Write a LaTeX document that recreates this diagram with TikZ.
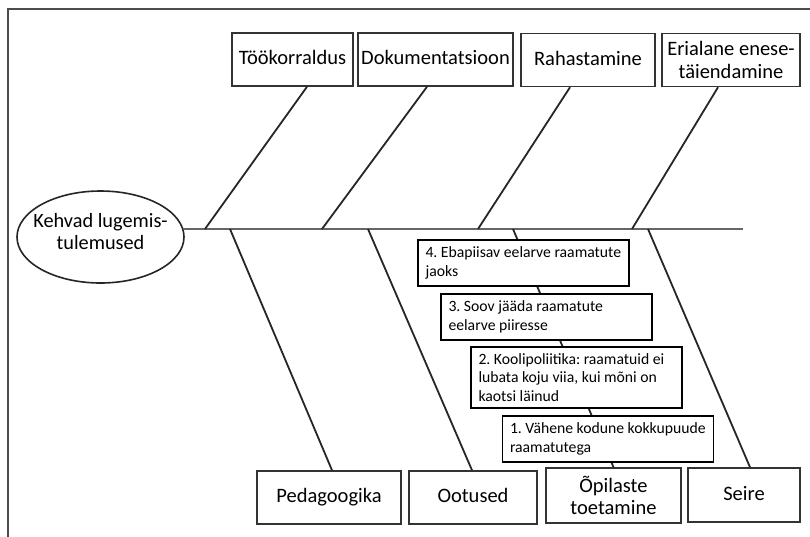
\documentclass[tikz,border=0pt]{standalone}
\usepackage{fontspec}
\setmainfont{Carlito}
\usetikzlibrary{shapes.geometric,calc}

\begin{document}
\frenchspacing
\begin{tikzpicture}[x=1pt,y=-1pt,
  cat/.style={draw=black!80, line width=1.5pt, fill=white, align=center,
    font=\fontsize{20.5}{22.5}\selectfont, inner sep=0pt,
    minimum height=53pt, text height=14pt, text depth=4pt},
  cat2/.style={cat, text height=, text depth=},
  cause/.style={draw=black, line width=1.1pt, fill=white, align=flush left,
    font=\fontsize{15.7}{18.5}\selectfont, text width=196pt, inner xsep=7.5pt,
    inner ysep=0pt, minimum height=46pt},
  bone/.style={draw=black!85, line width=1.8pt},
  spine/.style={draw=black!60, line width=2pt},
  frameline/.style={draw=black!70, line width=1.5pt},
]
\useasboundingbox (0,0) rectangle (810,536);
\fill[white] (0,0) rectangle (810,536);

% outer frame (only top and left edges fall inside the page)
\draw[frameline] (8,545) -- (8,9) -- (820,9);

% effect: fixed-size ellipse with its label on top
\node[draw=black!85, line width=1.6pt, ellipse, minimum width=167pt,
  minimum height=92pt, inner sep=0pt] (eff) at (100.5,237) {};
\node[align=center, font=\fontsize{20.3}{22.5}\selectfont, inner sep=0pt]
  (efftext) at (100.5,231.5) {Kehvad lugemis-\\tulemused};

% points on the spine
\coordinate (se) at (743,229);
\coordinate (u1) at (205,229);
\coordinate (u2) at (322,229);
\coordinate (u3) at (478,229);
\coordinate (u4) at (632,229);
\coordinate (l1) at (230,229);
\coordinate (l2) at (368,229);
\coordinate (l3) at (513,229);
\coordinate (l4) at (648,229);

% spine
\draw[spine] ([xshift=-1.5pt]se -| eff.east) -- (se);

% upper categories
\node[cat, minimum width=121pt] (t1) at (292.5,59.5) {Töökorraldus};
\node[cat, minimum width=155pt] (t2) at (435.5,59.5) {Dokumentatsioon};
\node[cat, minimum width=134pt] (t3) at (588,60) {Rahastamine};
\node[cat2, minimum width=138pt] (t4) at (731,60) {Erialane enese-\\täiendamine};

% lower categories
\node[cat, minimum width=144pt] (b1) at (329,497.5) {Pedagoogika};
\node[cat, minimum width=128pt] (b2) at (473,497.5) {Ootused};
\node[cat2, minimum width=135pt, minimum height=55pt] (b3) at (613.5,495.5) {Õpilaste\\toetamine};
\node[cat, minimum width=112pt, minimum height=54pt] (b4) at (744,495) {Seire};

% upper bones
\draw[bone] ([xshift=14.5pt]t1.south) -- (u1);
\draw[bone] ([xshift=-8.5pt]t2.south) -- (u2);
\draw[bone] ([xshift=-18pt]t3.south) -- (u3);
\draw[bone] ([xshift=-13pt]t4.south) -- (u4);

% lower bones
\draw[bone] (l1) -- ([xshift=3pt]b1.north);
\draw[bone] (l2) -- ([xshift=-1pt]b2.north);
\draw[bone] (l3) -- (b3.north);
\draw[bone] (l4) -- ([xshift=6pt]b4.north);

% causes along the student-support bone
\node[cause] (c4) at (523.5,263) {4. Ebapiisav eelarve raamatute\\jaoks};
\node[cause] (c3) at (546.5,317) {3. Soov jääda raamatute\\eelarve piiresse};
\node[cause, minimum height=61pt] (c2) at (576.5,377.5) {2. Koolipoliitika: raamatuid ei\\lubata koju viia, kui mõni on\\kaotsi läinud};
\node[cause] (c1) at (608,439) {1. Vähene kodune kokkupuude\\raamatutega};
\end{tikzpicture}
\end{document}
